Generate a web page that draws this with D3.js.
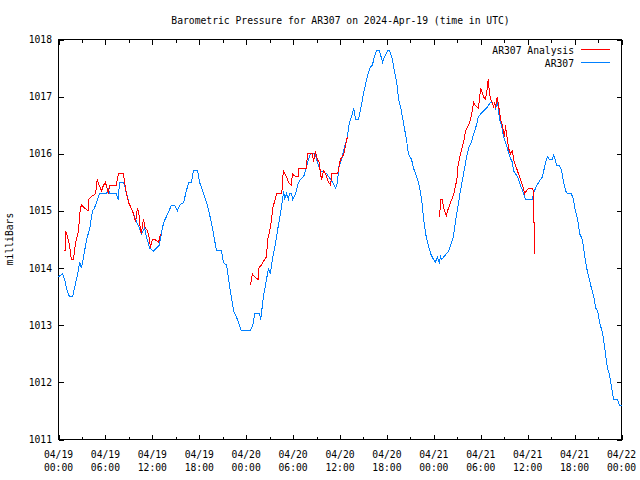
<!DOCTYPE html>
<html>
<head>
<meta charset="utf-8">
<script src="https://cdn.jsdelivr.net/npm/d3@7"></script>
<style>
  html, body { margin: 0; padding: 0; background: #fff; }
  svg { display: block; }
  text { font-family: "DejaVu Sans Mono", "Liberation Mono", monospace; font-size: 9.7px; fill: #000; }
</style>
</head>
<body>
<script>
// ---------- data (hours since 2024-04-19 00:00 UTC, pressure in mbar) ----------
const titleText = "Barometric Pressure for AR307 on 2024-Apr-19 (time in UTC)";
const yLabel = "milliBars";
const seriesNames = ["AR307 Analysis", "AR307"];
const seriesColors = ["#ff0000", "#0080ff"];

const yTicks = [1011, 1012, 1013, 1014, 1015, 1016, 1017, 1018];
const xTickHours = [0, 6, 12, 18, 24, 30, 36, 42, 48, 54, 60, 66, 72];
const xTickDates = ["04/19","04/19","04/19","04/19","04/20","04/20","04/20","04/20","04/21","04/21","04/21","04/21","04/22"];
const xTickTimes = ["00:00","06:00","12:00","18:00","00:00","06:00","12:00","18:00","00:00","06:00","12:00","18:00","00:00"];

// AR307 observed (blue)
const obsHours = [0,0.5,0.8,1.0,1.4,1.8,2.05,2.45,2.7,2.95,3.2,3.6,4.0,4.35,4.6,5.0,5.25,6.15,6.4,6.5,7.4,7.65,7.8,8.3,8.45,8.7,9.1,9.6,10.0,10.35,10.6,11.0,11.25,11.65,12.15,12.55,12.9,13.15,13.45,13.8,14.45,14.85,15.2,15.5,16.0,16.35,16.65,17.0,17.25,17.8,18.05,18.55,18.8,19.05,19.3,19.7,19.95,20.2,20.85,21.1,21.5,21.75,22.1,22.4,22.75,23.0,23.4,24.55,24.95,25.05,25.7,25.85,25.95,26.2,26.6,26.85,27.1,27.35,27.65,28.0,28.25,28.5,28.8,28.9,29.15,29.4,29.55,29.8,29.95,30.3,30.7,30.95,31.35,31.7,31.95,32.25,32.85,33.1,33.5,34.3,34.55,35.05,35.45,35.7,35.8,36.2,36.45,36.95,37.2,37.6,37.75,38.0,38.35,38.6,39.0,39.4,39.8,40.15,40.3,40.65,41.05,41.45,41.7,42.1,42.35,42.7,42.95,43.25,43.5,43.85,44.1,44.5,44.75,45.15,45.4,45.8,46.05,46.45,46.7,46.95,47.2,47.6,47.95,48.2,48.45,48.7,48.85,49.0,49.6,49.9,50.25,50.5,50.75,51.05,51.4,51.8,52.2,52.45,52.8,53.1,53.45,53.7,54.0,54.35,54.75,55.25,55.5,55.65,55.75,55.9,56.15,56.25,56.4,56.65,56.9,57.4,57.7,58.05,58.2,58.7,58.95,59.35,59.75,60.6,60.75,61.0,61.4,61.9,62.05,62.3,62.55,62.8,63.2,63.3,63.7,64.05,64.35,64.6,64.85,65.1,65.6,65.85,66.1,66.4,66.65,67.0,67.25,67.55,67.8,68.15,68.45,68.7,68.95,69.2,69.6,69.85,70.2,70.45,70.75,71.0,71.5,71.75,72.0];
const obsValues = [1013.85,1013.9,1013.8,1013.65,1013.5,1013.5,1013.65,1013.9,1014.1,1014.0,1014.2,1014.5,1014.7,1015.0,1015.05,1015.2,1015.3,1015.3,1015.4,1015.3,1015.3,1015.2,1015.5,1015.5,1015.45,1015.3,1015.1,1014.95,1014.8,1014.7,1014.6,1014.7,1014.55,1014.35,1014.3,1014.35,1014.4,1014.6,1014.8,1014.9,1015.1,1015.1,1015.0,1015.1,1015.15,1015.35,1015.5,1015.5,1015.7,1015.7,1015.5,1015.3,1015.2,1015.1,1014.95,1014.7,1014.5,1014.3,1014.3,1014.1,1014.05,1013.8,1013.5,1013.25,1013.15,1013.05,1012.9,1012.9,1013.05,1013.2,1013.2,1013.1,1013.2,1013.5,1013.8,1014.0,1013.9,1014.15,1014.35,1014.65,1014.85,1015.05,1015.35,1015.2,1015.3,1015.2,1015.3,1015.3,1015.2,1015.3,1015.5,1015.55,1015.6,1015.75,1015.9,1016.0,1016.0,1015.85,1015.7,1015.65,1015.6,1015.5,1015.4,1015.5,1015.75,1015.9,1016.05,1016.3,1016.55,1016.7,1016.8,1016.6,1016.6,1016.75,1017.05,1017.3,1017.5,1017.55,1017.65,1017.8,1017.8,1017.6,1017.7,1017.8,1017.8,1017.65,1017.45,1017.25,1016.95,1016.75,1016.55,1016.25,1016.0,1015.9,1015.75,1015.6,1015.5,1015.2,1014.85,1014.6,1014.45,1014.25,1014.15,1014.1,1014.2,1014.1,1014.2,1014.15,1014.25,1014.3,1014.45,1014.55,1014.8,1015.05,1015.35,1015.65,1015.95,1016.1,1016.2,1016.35,1016.5,1016.65,1016.7,1016.75,1016.8,1016.9,1016.9,1016.8,1016.9,1016.8,1016.9,1016.8,1016.6,1016.5,1016.3,1016.1,1015.95,1015.85,1015.7,1015.6,1015.5,1015.35,1015.2,1015.2,1015.3,1015.4,1015.5,1015.6,1015.7,1015.85,1015.95,1015.9,1015.9,1016.0,1015.8,1015.8,1015.7,1015.5,1015.35,1015.3,1015.3,1015.2,1015.0,1014.85,1014.6,1014.5,1014.25,1014.0,1013.85,1013.65,1013.5,1013.3,1013.25,1013.05,1012.85,1012.6,1012.25,1012.15,1011.9,1011.7,1011.7,1011.6,1011.6];

// AR307 Analysis (red), three separate runs
const anaHours1 = [0.65,0.9,0.9,1.15,1.4,1.65,1.9,2.2,2.55,2.8,2.95,3.35,3.85,3.85,4.2,4.75,4.95,5.2,5.5,5.75,6.0,6.4,6.5,6.9,7.4,7.65,8.3,8.45,8.7,8.95,9.3,9.6,9.85,10.1,10.35,10.4,10.6,10.85,11.1,11.4,11.65,11.75,12.0,12.3,12.8,13.05];
const anaValues1 = [1014.3,1014.3,1014.65,1014.55,1014.4,1014.15,1014.15,1014.45,1014.65,1015.05,1015.1,1015.05,1015.0,1015.2,1015.25,1015.3,1015.55,1015.45,1015.35,1015.45,1015.5,1015.3,1015.45,1015.45,1015.45,1015.65,1015.65,1015.5,1015.3,1015.15,1015.05,1014.95,1014.8,1015.05,1014.9,1014.75,1014.6,1014.85,1014.7,1014.65,1014.5,1014.35,1014.5,1014.5,1014.45,1014.6];
const anaHours2 = [24.55,24.8,25.05,25.55,25.6,25.95,26.35,26.6,26.75,27.0,27.25,27.4,27.8,27.9,28.55,28.75,29.15,29.4,29.8,29.9,30.3,30.7,30.7,31.3,31.7,31.85,32.5,32.6,32.85,33.1,33.35,33.5,33.65,33.9,34.15,34.4,34.55,34.8,34.95,35.7,35.85,36.05,36.3,36.5,36.7,36.95];
const anaValues2 = [1013.7,1013.9,1013.85,1013.8,1014.0,1014.05,1014.15,1014.2,1014.5,1014.65,1014.85,1015.05,1015.25,1015.3,1015.3,1015.7,1015.6,1015.5,1015.45,1015.65,1015.6,1015.6,1015.75,1015.75,1015.75,1016.0,1016.0,1015.85,1016.05,1015.9,1015.85,1015.65,1015.55,1015.7,1015.65,1015.55,1015.5,1015.45,1015.65,1015.65,1015.75,1015.9,1015.95,1016.0,1016.15,1016.3];
const anaHours3 = [48.75,48.85,49.1,49.25,49.5,49.6,49.75,50.15,50.55,50.95,51.05,51.4,51.8,52.05,52.45,52.7,53.1,53.3,53.7,54.0,54.35,54.6,54.85,54.95,55.1,55.25,55.5,55.65,55.75,55.9,56.0,56.15,56.25,56.4,56.55,56.75,56.9,57.05,57.15,57.3,57.4,57.55,57.8,58.05,58.2,58.45,58.7,58.95,59.2,59.45,59.6,59.85,60.1,60.6,60.75,60.75,60.85,60.85];
const anaValues3 = [1014.9,1015.2,1015.2,1015.05,1014.95,1014.9,1015.0,1015.15,1015.3,1015.55,1015.75,1016.0,1016.2,1016.4,1016.5,1016.6,1016.9,1016.85,1016.8,1017.15,1017.0,1016.95,1017.15,1017.3,1017.1,1016.95,1016.9,1016.8,1016.9,1016.8,1016.95,1017.0,1016.85,1016.75,1016.6,1016.5,1016.4,1016.3,1016.5,1016.35,1016.25,1016.1,1016.0,1016.05,1015.9,1015.8,1015.7,1015.6,1015.5,1015.4,1015.3,1015.35,1015.4,1015.4,1015.35,1014.8,1014.8,1014.25];

// ---------- drawing ----------
const W = 640, H = 480;
const padL = 58, padR = 621, padT = 39, padB = 439;

const svg = d3.select("body").append("svg").attr("width", W).attr("height", H);

const x = d3.scaleLinear().domain([0, 72]).range([padL + 0.5, padR + 0.5]);
const y = d3.scaleLinear().domain([1011, 1018]).range([padB + 0.5, padT + 0.5]);

const minorHours = d3.range(3, 72, 6);

function styleAxis(g) {
  g.select(".domain").remove();
  g.selectAll("line").attr("stroke", "#000").attr("shape-rendering", "crispEdges");
  g.selectAll("text").remove();
}

// bottom axis: major + minor ticks pointing inward
svg.append("g").attr("transform", `translate(0,${padB + 0.5})`)
  .call(d3.axisBottom(x).tickValues(xTickHours).tickSizeInner(-5).tickSizeOuter(0)).call(styleAxis);
svg.append("g").attr("transform", `translate(0,${padB + 0.5})`)
  .call(d3.axisBottom(x).tickValues(minorHours).tickSizeInner(-3).tickSizeOuter(0)).call(styleAxis);
// top axis mirrors
svg.append("g").attr("transform", `translate(0,${padT + 0.5})`)
  .call(d3.axisTop(x).tickValues(xTickHours).tickSizeInner(-5).tickSizeOuter(0)).call(styleAxis);
svg.append("g").attr("transform", `translate(0,${padT + 0.5})`)
  .call(d3.axisTop(x).tickValues(minorHours).tickSizeInner(-3).tickSizeOuter(0)).call(styleAxis);
// left & right axes
svg.append("g").attr("transform", `translate(${padL + 0.5},0)`)
  .call(d3.axisLeft(y).tickValues(yTicks).tickSizeInner(-5).tickSizeOuter(0)).call(styleAxis);
svg.append("g").attr("transform", `translate(${padR + 0.5},0)`)
  .call(d3.axisRight(y).tickValues(yTicks).tickSizeInner(-5).tickSizeOuter(0)).call(styleAxis);

// frame
svg.append("rect")
  .attr("x", padL + 0.5).attr("y", padT + 0.5)
  .attr("width", padR - padL).attr("height", padB - padT)
  .attr("fill", "none").attr("stroke", "#000").attr("shape-rendering", "crispEdges");

// y tick labels
svg.append("g").selectAll("text").data(yTicks).join("text")
  .attr("x", padL - 6).attr("y", d => y(d) + 3.5)
  .attr("text-anchor", "end").text(d => d);

// x tick labels (two lines)
const xl = svg.append("g").selectAll("text").data(xTickHours).join("text")
  .attr("text-anchor", "middle");
xl.append("tspan").attr("x", d => x(d)).attr("y", padB + 19).text((d, i) => xTickDates[i]);
xl.append("tspan").attr("x", d => x(d)).attr("y", padB + 32).text((d, i) => xTickTimes[i]);

// title
svg.append("text").attr("x", (padL + padR) / 2 + 1).attr("y", 23.5)
  .attr("text-anchor", "middle").text(titleText);

// y axis label
svg.append("text").attr("transform", `translate(13,${(padT + padB) / 2}) rotate(-90)`)
  .attr("text-anchor", "middle").text(yLabel);

// lines
const line = d3.line().x(d => x(d[0])).y(d => y(d[1]));
function drawSeries(hours, values, color) {
  svg.append("path")
    .datum(hours.map((h, i) => [h, values[i]]))
    .attr("d", line)
    .attr("fill", "none").attr("stroke", color).attr("stroke-width", 1)
    .attr("shape-rendering", "crispEdges");
}
drawSeries(obsHours, obsValues, seriesColors[1]);
drawSeries(anaHours1, anaValues1, seriesColors[0]);
drawSeries(anaHours2, anaValues2, seriesColors[0]);
drawSeries(anaHours3, anaValues3, seriesColors[0]);

// legend
const legend = svg.append("g");
seriesNames.forEach((name, i) => {
  const ly = 49.5 + i * 13;
  legend.append("text").attr("x", 574).attr("y", ly + 4).attr("text-anchor", "end").text(name);
  legend.append("line").attr("x1", 581).attr("x2", 610).attr("y1", ly).attr("y2", ly)
    .attr("stroke", seriesColors[i]).attr("shape-rendering", "crispEdges");
});
</script>
</body>
</html>
